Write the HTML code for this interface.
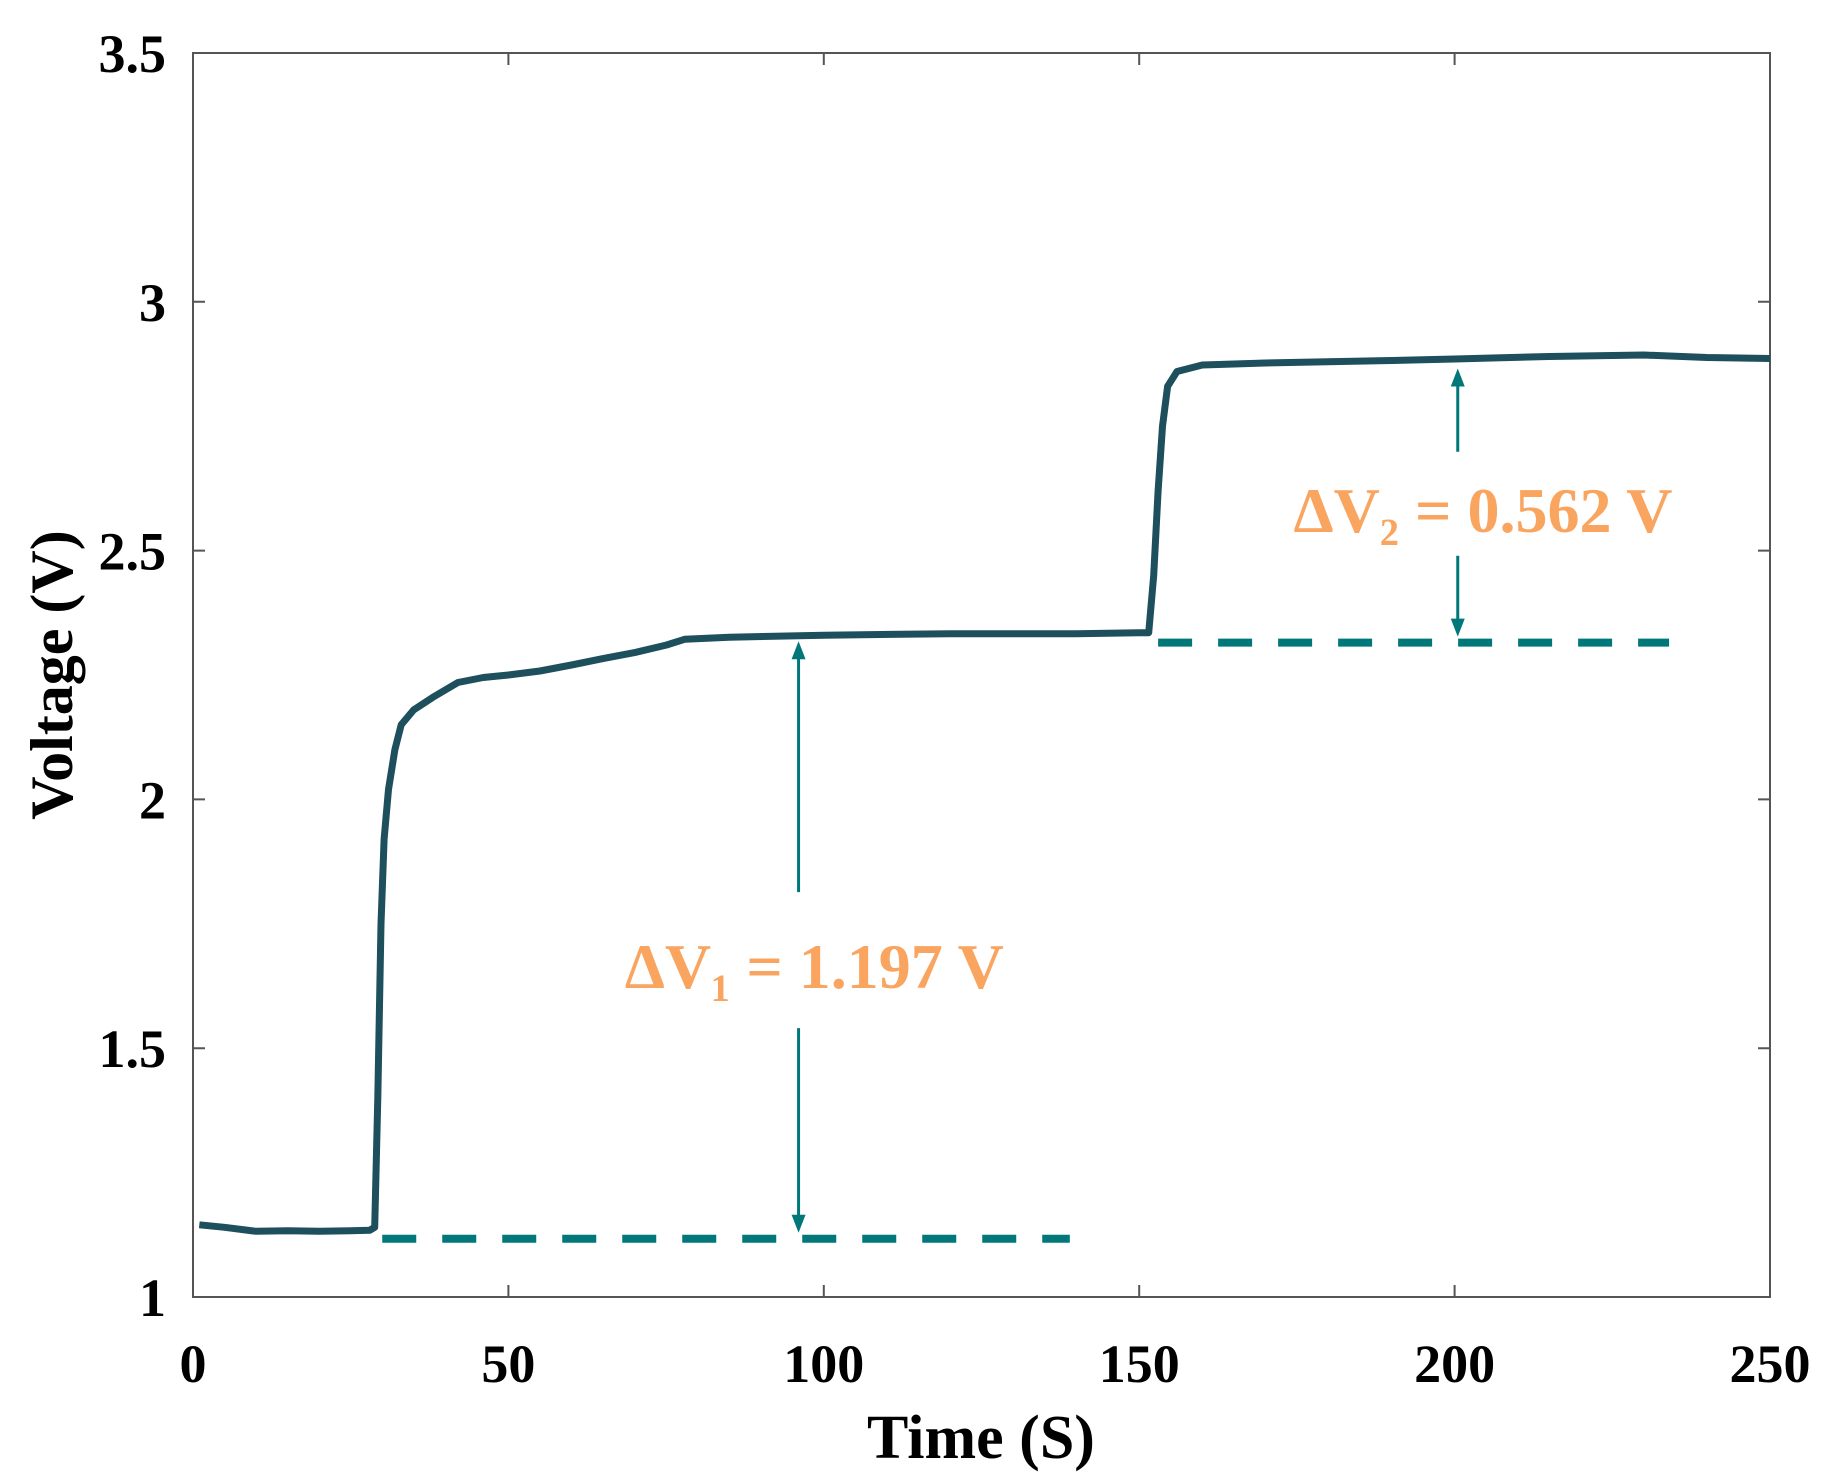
<!DOCTYPE html>
<html><head><meta charset="utf-8"><style>
body{margin:0;background:#fff}
svg{display:block;font-family:"Liberation Serif",serif;font-weight:bold}
</style></head><body>
<svg id="chart" width="1832" height="1483" viewBox="0 0 1832 1483">
<rect x="193" y="53" width="1577" height="1244" fill="none" stroke="#555" stroke-width="2"/>
<g id="ticks"></g>
<path id="series" fill="none" stroke="#1d4f5c" stroke-width="7" stroke-linejoin="round"/>
<g id="ann"></g>
<text x="981" y="1458" font-size="62" text-anchor="middle">Time (S)</text>
<text transform="translate(72,675) rotate(-90)" font-size="60" text-anchor="middle">Voltage (V)</text>
</svg>
<script>
const xTicks=[0,50,100,150,200,250];
const yTicks=[1,1.5,2,2.5,3,3.5];
const yTickLabels=["1","1.5","2","2.5","3","3.5"];
const times=[1,5,10,15,20,25,28,28.8,29.3,29.8,30.3,31,32,33,35,38,42,46,50,55,60,65,70,75,78,85,100,120,140,150,151.5,152.3,153,153.7,154.5,156,160,170,190,200,215,230,240,250];
const volts=[1.145,1.14,1.132,1.133,1.132,1.133,1.134,1.14,1.4,1.75,1.92,2.02,2.1,2.15,2.18,2.205,2.235,2.245,2.25,2.258,2.27,2.283,2.295,2.31,2.322,2.326,2.33,2.333,2.333,2.335,2.335,2.45,2.62,2.75,2.83,2.86,2.873,2.877,2.882,2.885,2.89,2.893,2.888,2.886];
const baselines=[1.117,2.315];
const baseStart=[30,153];
const baseEnd=[139,234];
const arrowX=[96,200.5];
const arrowTop=[2.33,2.878];
const labels=["ΔV₁ = 1.197 V","ΔV₂ = 0.562 V"];
const labelV=[1.665,2.582];
const labelT=[98.5,204.5];
const NS="http://www.w3.org/2000/svg";
const X=t=>193+t*(1577/250);
const Y=v=>1297-(v-1)*(1244/2.5);
function mk(tag,attrs,parent){const e=document.createElementNS(NS,tag);for(const k in attrs)e.setAttribute(k,attrs[k]);parent.appendChild(e);return e;}
const tg=document.getElementById('ticks');
xTicks.forEach(t=>{
 let l=mk('path',{d:`M${X(t)},1297v-12M${X(t)},53v12`,stroke:'#555','stroke-width':2},tg);
 
 
 let tx=mk('text',{x:X(t),y:1382,'font-size':54,'text-anchor':'middle'},tg);tx.textContent=t;
 
 
});
yTicks.forEach((v,i)=>{
 let l=mk('path',{d:`M193,${Y(v)}h12M1770,${Y(v)}h-12`,stroke:'#555','stroke-width':2},tg);
 
 
 let tx=mk('text',{x:166,y:Y(v)+19,'font-size':54,'text-anchor':'end'},tg);tx.textContent=yTickLabels[i];
 
 
});
document.getElementById('series').setAttribute('d',times.map((t,i)=>(i?'L':'M')+X(t).toFixed(1)+','+Y(volts[i]).toFixed(1)).join(''));
const ag=document.getElementById('ann');
const dc='#00787a';
baselines.forEach((b,i)=>{
 let l=mk('line',{x1:X(baseStart[i]),x2:X(baseEnd[i]),y1:Y(b),y2:Y(b),stroke:dc,'stroke-width':8,'stroke-dasharray':'34 26'},ag);
 
 
 const x=X(arrowX[i]),y1=Y(arrowTop[i])+6,y2=Y(b)-6,ly=Y(labelV[i]);
 const gap=i?46:62;
 let a=mk('path',{d:`M${x},${y1+14}V${ly-gap-12}M${x},${ly+gap}V${y2-14}`,stroke:dc,'stroke-width':3,fill:'none'},ag);
 
 
 let h=mk('path',{d:`M${x},${y1}l-7,18h14zM${x},${y2}l-7,-18h14z`,fill:dc},ag);
 
 
 let tx=mk('text',{x:X(labelT[i]),y:ly+22,'font-size':64,'text-anchor':'middle',fill:'#f9a45f'},ag);tx.textContent=labels[i];
 
 
});
</script>
</body></html>
